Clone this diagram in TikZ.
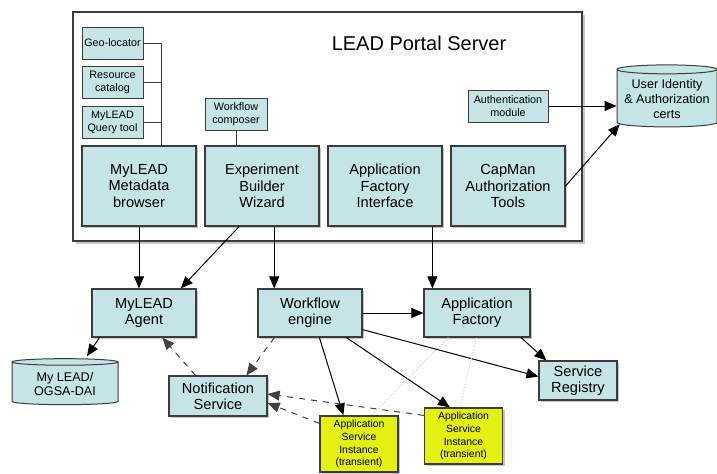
\documentclass[tikz,border=0pt]{standalone}
\usepackage{fontspec}
\setmainfont{Liberation Sans}
\usetikzlibrary{arrows.meta,shapes.geometric,shadows,calc}
\definecolor{boxcyan}{HTML}{C5E4E6}
\definecolor{boxyellow}{HTML}{E3F011}
\definecolor{boxline}{HTML}{3C3C3C}
\begin{document}
\begin{tikzpicture}[x=0.5pt,y=-0.5pt,
        comp/.style={draw=boxline,fill=boxcyan,line width=0.6pt,align=center,inner sep=1pt,font=\fontsize{7.3}{8.2}\selectfont,minimum width=57pt,minimum height=40pt,drop shadow={shadow xshift=1.2pt,shadow yshift=-1.2pt,opacity=0.45}},
        tool/.style={draw=boxline,fill=boxcyan,line width=0.5pt,align=center,inner sep=1pt,font=\fontsize{5.4}{6.4}\selectfont,minimum width=30.5pt,minimum height=16pt},
        inst/.style={comp,fill=boxyellow,font=\fontsize{5.2}{6.4}\selectfont,minimum width=39pt,minimum height=28pt},
        store/.style={cylinder,shape border rotate=90,aspect=0.1,draw=boxline,fill=boxcyan,line width=0.5pt,align=center,inner sep=1pt,font=\fontsize{6.3}{7.3}\selectfont},
        arr/.style={-{Triangle[length=6pt,width=5pt]},line width=0.5pt},
        note/.style={arr,dashed,draw=black!75},
        hint/.style={gray!45,densely dotted,line width=0.5pt}]
        \useasboundingbox (0,0) rectangle (717,473);
        \node[draw=boxline,fill=white,line width=0.6pt,minimum width=254.5pt,minimum height=114.5pt,drop shadow={shadow xshift=1.5pt,shadow yshift=-1.5pt,opacity=0.45}] (server) at (327.5,126.5) {};
        \node[font=\fontsize{10}{12}\selectfont] (title) at (419,43) {LEAD Portal Server};
        \node[tool] (geo) at (112.5,43) {Geo-locator};
        \node[tool] (rescat) at (112.5,82.5) {Resource\\catalog};
        \node[tool] (query) at (112.5,122) {MyLEAD\\Query tool};
        \node[tool,minimum width=31pt] (wfcomposer) at (236,114) {Workflow\\composer};
        \node[tool,minimum width=40pt] (authmod) at (508,106) {Authentication\\module};
        \node[comp] (mdbrowser) at (139,186) {MyLEAD\\Metadata\\browser};
        \node[comp] (expwiz) at (262,186) {Experiment\\Builder\\Wizard};
        \node[comp] (afiface) at (385,186) {Application\\Factory\\Interface};
        \node[comp] (capman) at (508,186) {CapMan\\Authorization\\Tools};
        \node[store,minimum width=50pt,minimum height=31pt] (userid) at (667,99) {User Identity\\\& Authorization\\certs};
        \node[comp,minimum width=52pt,minimum height=24pt] (agent) at (144,313) {MyLEAD\\Agent};
        \node[comp,minimum width=52pt,minimum height=24pt] (wfengine) at (310,313) {Workflow\\engine};
        \node[comp,minimum width=53pt,minimum height=24pt] (appfactory) at (477,313) {Application\\Factory};
        \node[comp,minimum width=39pt,minimum height=19.5pt] (registry) at (578,380.5) {Service\\Registry};
        \node[comp,minimum width=49pt,minimum height=20pt] (notif) at (218,396) {Notification\\Service};
        \node[store,minimum width=53pt,minimum height=23pt] (ogsadai) at (65,384) {My LEAD/\\OGSA-DAI};
        \node[inst] (asi1) at (359,444) {Application\\Service\\Instance\\(transient)};
        \node[inst] (asi2) at (463.5,436) {Application\\Service\\Instance\\(transient)};
        \coordinate (spine) at (161,0);
        \draw[boxline] (geo.east) -| (spine |- mdbrowser.north);
        \draw[boxline] (rescat.east) -- (rescat.east -| spine);
        \draw[boxline] (query.east) -- (query.east -| spine);
        \draw[boxline] (wfcomposer.south) -- (wfcomposer.south |- expwiz.north);
        \draw[arr] (authmod.east) -- (authmod.east -| userid.west);
        \draw[arr] (capman.east) -- (userid.208);
        \coordinate (wftop) at ($(wfengine.north west)!0.16!(wfengine.north east)$);
        \coordinate (aftop) at ($(appfactory.north west)+(9,0)$);
        \draw[arr] (mdbrowser.south) -- (mdbrowser.south |- agent.north);
        \draw[arr] ($(expwiz.south west)!0.3!(expwiz.south east)$) -- ($(agent.north west)!0.85!(agent.north east)$);
        \draw[arr] (expwiz.south -| wftop) -- (wftop);
        \draw[arr] (afiface.south -| aftop) -- (aftop);
        \draw[arr] (wfengine.east) -- (appfactory.west);
        \draw[arr] ($(wfengine.south east)+(0,-8)$) -- ($(registry.west)+(0,-4)$);
        \draw[arr] ($(appfactory.south west)!0.91!(appfactory.south east)$) -- ($(registry.north west)+(8,0)$);
        \draw[arr] ($(wfengine.south west)+(62,0)$) -- ($(asi1.north west)+(24,0)$);
        \draw[arr] ($(wfengine.south west)+(89,0)$) -- ($(asi2.north west)+(26,0)$);
        \draw[arr] ($(agent.south west)+(8,0)$) -- ($(ogsadai.north)+(22,-2)$);
        \draw[note] ($(wfengine.south west)+(17,0)$) -- ($(notif.north west)+(78,0)$);
        \draw[note] ($(notif.north west)+(27,0)$) -- ($(agent.south west)+(71,0)$);
        \draw[note] ($(asi2.north west)+(0,8)$) -- ($(notif.east)+(0,-2)$);
        \draw[note] ($(asi1.north west)+(0,8)$) -- ($(notif.east)+(0,7)$);
        \draw[hint] ($(appfactory.south west)+(25,0)$) -- ($(asi1.north west)+(52,0)$);
        \draw[hint] ($(appfactory.south west)+(53,0)$) -- ($(asi2.north west)+(36,0)$);
      \end{tikzpicture}
\end{document}
